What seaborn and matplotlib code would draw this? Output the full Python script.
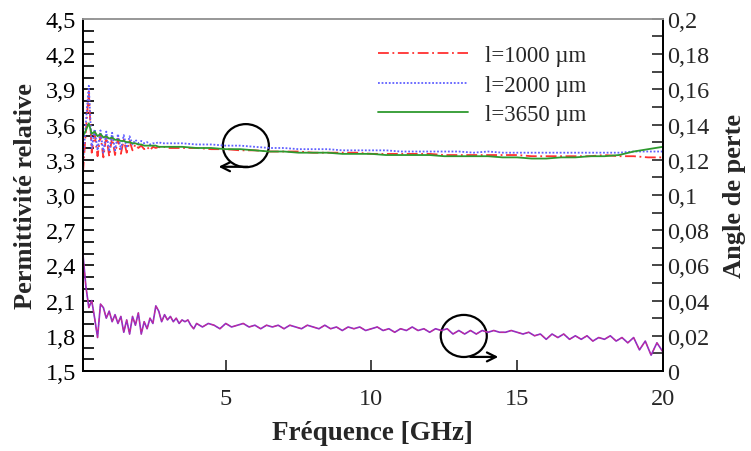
import numpy as np
import pandas as pd
import seaborn as sns
from matplotlib import pyplot as plt
from matplotlib.patches import Ellipse
from matplotlib.ticker import FixedLocator, MultipleLocator, FuncFormatter

# permittivity curves (left axis)
freq_perm = [0.1, 0.2, 0.3, 0.4, 0.5, 0.6, 0.7, 0.8, 0.9, 1.0,
             1.1, 1.2, 1.3, 1.4, 1.5, 1.6, 1.7, 1.8, 1.9, 2.0,
             2.1, 2.2, 2.3, 2.4, 2.5, 2.6, 2.7, 2.8, 2.9, 3.0,
             3.5, 4.0, 4.5, 5.0, 5.5, 6.0, 6.5, 7.0, 7.5, 8.0,
             8.5, 9.0, 9.5, 10.0, 10.5, 11.0, 11.5, 12.0, 12.5, 13.0,
             13.5, 14.0, 14.5, 15.0, 15.5, 16.0, 16.5, 17.0, 17.5, 18.0,
             18.5, 19.0, 19.5, 20.0]
perm_1000 = [3.19, 3.55, 3.88, 3.36, 3.52, 3.33, 3.51, 3.32, 3.50, 3.33,
             3.49, 3.34, 3.48, 3.35, 3.47, 3.36, 3.46, 3.38, 3.43, 3.40,
             3.42, 3.39, 3.41, 3.38, 3.41, 3.40, 3.41, 3.40, 3.41, 3.40,
             3.40, 3.40, 3.39, 3.39, 3.38, 3.38, 3.37, 3.37, 3.37, 3.36,
             3.36, 3.36, 3.36, 3.35, 3.35, 3.35, 3.35, 3.35, 3.34, 3.34,
             3.34, 3.34, 3.34, 3.34, 3.33, 3.33, 3.33, 3.33, 3.33, 3.34,
             3.33, 3.33, 3.32, 3.32]
perm_2000 = [3.28, 3.62, 3.93, 3.40, 3.56, 3.38, 3.55, 3.36, 3.54, 3.37,
             3.53, 3.38, 3.52, 3.39, 3.51, 3.40, 3.50, 3.43, 3.47, 3.44,
             3.46, 3.44, 3.45, 3.43, 3.44, 3.44, 3.45, 3.44, 3.44, 3.44,
             3.44, 3.43, 3.43, 3.42, 3.42, 3.41, 3.40, 3.40, 3.39, 3.39,
             3.39, 3.38, 3.38, 3.38, 3.38, 3.37, 3.37, 3.37, 3.37, 3.37,
             3.36, 3.37, 3.36, 3.36, 3.36, 3.36, 3.36, 3.36, 3.36, 3.36,
             3.36, 3.37, 3.37, 3.37]
perm_3650 = [3.50, 3.55, 3.61, 3.52, 3.54, 3.50, 3.52, 3.49, 3.50, 3.48,
             3.49, 3.47, 3.47, 3.46, 3.46, 3.45, 3.45, 3.44, 3.44, 3.43,
             3.43, 3.42, 3.42, 3.42, 3.42, 3.42, 3.41, 3.41, 3.41, 3.41,
             3.41, 3.40, 3.40, 3.39, 3.39, 3.38, 3.37, 3.37, 3.36, 3.36,
             3.36, 3.35, 3.35, 3.35, 3.34, 3.34, 3.34, 3.34, 3.33, 3.33,
             3.33, 3.33, 3.32, 3.32, 3.31, 3.31, 3.32, 3.32, 3.33, 3.33,
             3.34, 3.37, 3.39, 3.41]

# loss angle (right axis)
freq_loss = [0.1, 0.2, 0.3, 0.4, 0.5, 0.6, 0.7, 0.8, 0.9, 1.0,
             1.1, 1.2, 1.3, 1.4, 1.5, 1.6, 1.7, 1.8, 1.9, 2.0,
             2.1, 2.2, 2.3, 2.4, 2.5, 2.6, 2.7, 2.8, 2.9, 3.0,
             3.1, 3.2, 3.3, 3.4, 3.5, 3.6, 3.7, 3.8, 3.9, 4.0,
             4.2, 4.4, 4.6, 4.8, 5.0, 5.2, 5.4, 5.6, 5.8, 6.0,
             6.2, 6.4, 6.6, 6.8, 7.0, 7.2, 7.4, 7.6, 7.8, 8.0,
             8.2, 8.4, 8.6, 8.8, 9.0, 9.2, 9.4, 9.6, 9.8, 10.0,
             10.2, 10.4, 10.6, 10.8, 11.0, 11.2, 11.4, 11.6, 11.8, 12.0,
             12.2, 12.4, 12.6, 12.8, 13.0, 13.2, 13.4, 13.6, 13.8, 14.0,
             14.2, 14.4, 14.6, 14.8, 15.0, 15.2, 15.4, 15.6, 15.8, 16.0,
             16.2, 16.4, 16.6, 16.8, 17.0, 17.2, 17.4, 17.6, 17.8, 18.0,
             18.2, 18.4, 18.6, 18.8, 19.0, 19.2, 19.4, 19.6, 19.8, 20.0]
loss = [0.066, 0.048, 0.036, 0.040, 0.030, 0.019, 0.038, 0.036, 0.030, 0.034,
        0.028, 0.032, 0.027, 0.031, 0.022, 0.029, 0.021, 0.031, 0.026, 0.033,
        0.021, 0.028, 0.024, 0.030, 0.027, 0.037, 0.034, 0.028, 0.032, 0.029,
        0.031, 0.028, 0.030, 0.027, 0.029, 0.028, 0.029, 0.026, 0.024, 0.027,
        0.025, 0.027, 0.026, 0.024, 0.027, 0.025, 0.026, 0.027, 0.025, 0.026,
        0.024, 0.026, 0.025, 0.026, 0.024, 0.026, 0.025, 0.024, 0.026, 0.025,
        0.024, 0.026, 0.024, 0.025, 0.023, 0.025, 0.024, 0.025, 0.023, 0.024,
        0.025, 0.023, 0.024, 0.022, 0.024, 0.023, 0.025, 0.023, 0.024, 0.022,
        0.024, 0.023, 0.024, 0.021, 0.023, 0.021, 0.023, 0.021, 0.023, 0.022,
        0.023, 0.022, 0.022, 0.023, 0.022, 0.021, 0.022, 0.020, 0.021, 0.018,
        0.021, 0.019, 0.021, 0.018, 0.020, 0.018, 0.020, 0.017, 0.019, 0.018,
        0.020, 0.017, 0.019, 0.016, 0.019, 0.012, 0.017, 0.009, 0.016, 0.011]

labels = ["l=1000 \u00b5m", "l=2000 \u00b5m", "l=3650 \u00b5m"]
colors = ["#ff3030", "#6060ff", "#2e9a2e"]
styles = [(0, (6, 2, 1, 2)), (0, (1, 1)), "-"]

sns.set_style("ticks")
plt.rcParams["font.family"] = ["Liberation Serif", "DejaVu Serif"]

fig = plt.figure(figsize=(7.51, 4.52), dpi=100)
ax = fig.add_axes([0.1105, 0.177, 0.772, 0.779])
ax2 = ax.twinx()

df_perm = pd.DataFrame({"f": freq_perm, labels[0]: perm_1000,
                        labels[1]: perm_2000, labels[2]: perm_3650})
for lab, col, ls in zip(labels, colors, styles):
    sns.lineplot(data=df_perm, x="f", y=lab, ax=ax, color=col, linestyle=ls,
                 linewidth=1.3, label=lab)

df_loss = pd.DataFrame({"f": freq_loss, "loss": loss})
sns.lineplot(data=df_loss, x="f", y="loss", ax=ax2, color="#8a2fc8",
             linewidth=1.2, legend=False)
sns.lineplot(data=df_loss, x="f", y="loss", ax=ax2, color="#d02a8a",
             linewidth=0.7, linestyle=(0, (4, 2, 1, 2)), legend=False)

ax.set_xlim(0.1, 20)
ax.set_ylim(1.5, 4.5)
ax2.set_ylim(0, 0.2)

ax.xaxis.set_major_locator(FixedLocator([5, 10, 15, 20]))
ax.yaxis.set_major_locator(MultipleLocator(0.3))
ax.yaxis.set_minor_locator(MultipleLocator(0.1))
ax2.yaxis.set_major_locator(MultipleLocator(0.02))
ax2.yaxis.set_minor_locator(MultipleLocator(0.01))
ax.yaxis.set_major_formatter(FuncFormatter(lambda v, p: f"{v:.1f}".replace(".", ",")))
ax2.yaxis.set_major_formatter(
    FuncFormatter(lambda v, p: ("0" if abs(v) < 1e-9 else f"{v:.2f}".rstrip("0").replace(".", ","))))

ax.tick_params(axis="y", which="both", direction="in", length=8, width=1.2,
               labelsize=17.5, pad=5, colors="black")
ax.tick_params(axis="x", direction="in", length=8, width=1.2, labelsize=17.5, pad=12)
ax2.tick_params(axis="y", which="both", direction="in", length=8, width=1.2,
                labelsize=17.5, pad=3)

for a in (ax, ax2):
    for side in ("left", "right", "bottom"):
        a.spines[side].set_color("black")
        a.spines[side].set_linewidth(1.3)
    a.spines["top"].set_color("#999999")
    a.spines["top"].set_linewidth(1.3)

ax.set_xlabel("Fréquence [GHz]", fontsize=19.5, fontweight="bold", labelpad=8)
ax.set_ylabel("Permittivité relative", fontsize=19, fontweight="bold", labelpad=6)
ax2.set_ylabel("Angle de perte", fontsize=19, fontweight="bold", labelpad=10)

ax.legend(loc="upper left", bbox_to_anchor=(0.474, 0.985), frameon=False,
          fontsize=16.5, handlelength=3.9, handletextpad=0.75, labelspacing=0.38)

# circles with arrows pointing to each axis
ax.add_patch(Ellipse((5.69, 3.42), 1.58, 0.367, fill=False, color="black", linewidth=1.6))
ax.annotate("", xy=(4.66, 3.24), xytext=(5.85, 3.24),
            arrowprops=dict(arrowstyle="->", color="black", lw=1.6, mutation_scale=16))
ax2.add_patch(Ellipse((13.17, 0.0199), 1.58, 0.0239, fill=False, color="black", linewidth=1.6))
ax2.annotate("", xy=(14.45, 0.008), xytext=(13.3, 0.008),
             arrowprops=dict(arrowstyle="->", color="black", lw=1.6, mutation_scale=16))

plt.savefig("out.png", dpi=100)
